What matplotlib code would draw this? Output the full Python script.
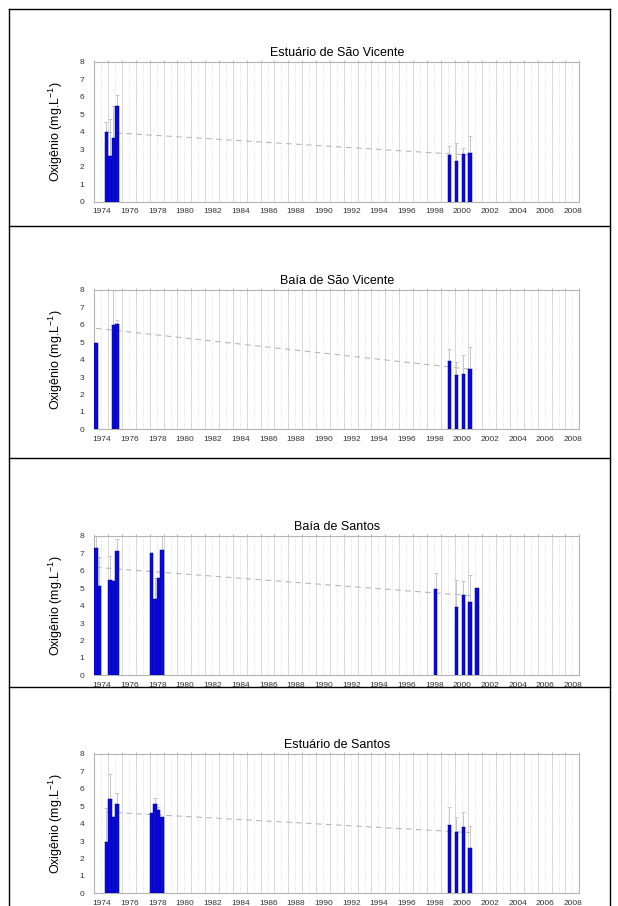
import matplotlib
matplotlib.use("Agg")
import matplotlib.pyplot as plt
from matplotlib.lines import Line2D
from matplotlib.transforms import blended_transform_factory

plt.rcParams['font.family'] = ['Liberation Sans', 'DejaVu Sans']
plt.rcParams['mathtext.default'] = 'regular'

# Sampling periods are given as (year, quarter); values in mg/L with upper error
titles = ["Estuário de São Vicente", "Baía de São Vicente",
          "Baía de Santos", "Estuário de Santos"]

sv_est_year = [1974, 1975, 1975, 1975, 1999, 2000, 2000, 2001]
sv_est_qtr = [4, 1, 2, 3, 3, 1, 3, 1]
sv_est_val = [4.00, 2.60, 3.65, 5.45, 2.68, 2.30, 2.72, 2.78]
sv_est_err = [0.55, 2.15, 1.85, 0.65, 0.52, 1.05, 0.33, 0.97]
sv_est_trend = [(1974.875, 3.97), (2001.125, 2.66)]

sv_bay_year = [1974, 1975, 1975, 1999, 2000, 2000, 2001]
sv_bay_qtr = [1, 2, 3, 3, 1, 3, 1]
sv_bay_val = [4.95, 6.00, 6.05, 3.90, 3.10, 3.15, 3.45]
sv_bay_err = [0.00, 2.00, 0.20, 0.70, 0.75, 1.10, 1.30]
sv_bay_trend = [(1974.125, 5.80), (2001.125, 3.45)]

st_bay_year = [1974, 1974, 1975, 1975, 1975, 1978, 1978, 1978, 1978,
               1998, 2000, 2000, 2001, 2001]
st_bay_qtr = [1, 2, 1, 2, 3, 1, 2, 3, 4, 3, 1, 3, 1, 3]
st_bay_val = [7.30, 5.15, 5.45, 5.40, 7.15, 7.00, 4.40, 5.60, 7.20,
              4.95, 3.95, 4.60, 4.20, 5.00]
st_bay_err = [0.70, 1.65, 1.40, 0.00, 0.65, 0.00, 1.20, 0.00, 0.80,
              0.90, 1.55, 0.80, 1.55, 0.00]
st_bay_trend = [(1974.125, 6.20), (2001.625, 4.55)]

st_est_year = [1974, 1975, 1975, 1975, 1978, 1978, 1978, 1978,
               1999, 2000, 2000, 2001]
st_est_qtr = [4, 1, 2, 3, 1, 2, 3, 4, 3, 1, 3, 1]
st_est_val = [2.95, 5.42, 4.38, 5.15, 4.60, 5.12, 4.78, 4.40,
              3.95, 3.50, 3.80, 2.60]
st_est_err = [1.95, 1.43, 0.00, 0.60, 0.00, 0.33, 0.20, 0.00,
              1.03, 0.90, 0.85, 1.27]
st_est_trend = [(1974.875, 4.67), (2001.125, 3.49)]

series = [
    (sv_est_year, sv_est_qtr, sv_est_val, sv_est_err, sv_est_trend),
    (sv_bay_year, sv_bay_qtr, sv_bay_val, sv_bay_err, sv_bay_trend),
    (st_bay_year, st_bay_qtr, st_bay_val, st_bay_err, st_bay_trend),
    (st_est_year, st_est_qtr, st_est_val, st_est_err, st_est_trend),
]

year_labels = list(range(1974, 2009, 2))
y_ticks = list(range(0, 9))

W, H = 618, 906
fig = plt.figure(figsize=(W / 100, H / 100), dpi=100)

# axes boxes in pixels: (top, bottom)
boxes = [(62, 201.5), (290, 429.3), (536, 675.3), (754, 893.3)]
ax_left, ax_right = 94.3, 579.3

for (top, bot), title, (yrs, qts, vals, errs, trend) in zip(boxes, titles, series):
    ax = fig.add_axes([ax_left / W, 1 - bot / H,
                       (ax_right - ax_left) / W, (bot - top) / H])
    x = [y + (q - 0.5) / 4 for y, q in zip(yrs, qts)]
    ax.set_xlim(1974, 2009)
    ax.set_ylim(0, 8)

    # year / half-year vertical grid
    ax.set_xticks(range(1974, 2010))
    ax.set_xticks([y + 0.5 for y in range(1974, 2009)], minor=True)
    ax.grid(True, axis='x', which='major', color='#d2d2d2', lw=0.6, zorder=0)
    ax.grid(True, axis='x', which='minor', color='#dedede', lw=0.6,
            ls=(0, (1.2, 1.5)), zorder=0)
    ax.set_axisbelow(True)
    ax.tick_params(axis='x', which='both', labelbottom=False, bottom=False,
                   top=True, length=1.5, color='#bbbbbb')
    ax.tick_params(axis='x', which='minor', top=False)
    ax.set_yticks(y_ticks)
    ax.tick_params(axis='y', length=0, pad=7, labelsize=6, labelcolor='#333333')
    for s in ax.spines.values():
        s.set_color('#b4b4b4')
        s.set_linewidth(0.8)

    # trend line
    (tx0, ty0), (tx1, ty1) = trend
    ax.plot([tx0, tx1], [ty0, ty1], color='#b8b8b8', lw=0.8,
            ls=(0, (5, 4)), zorder=1)

    ax.bar(x, vals, width=0.25, color='#0a0ade', edgecolor='#000090',
           linewidth=0.35, zorder=3)
    ex = [xi for xi, e in zip(x, errs) if e > 0]
    ev = [v for v, e in zip(vals, errs) if e > 0]
    ee = [e for e in errs if e > 0]
    ax.errorbar(ex, ev, yerr=[[0] * len(ee), ee], fmt='none',
                ecolor='#c8c8c8', elinewidth=0.7, capsize=1.6,
                capthick=0.7, zorder=2, clip_on=True)

    trans = blended_transform_factory(ax.transData, ax.transAxes)
    for yl in year_labels:
        ax.text(yl + 0.55, -0.045, str(yl), transform=trans, ha='center',
                va='top', fontsize=6, color='#333333')

    ax.set_title(title, fontsize=9, pad=4)
    ax.set_ylabel('Oxigênio (mg.L$^{-1}$)', fontsize=9)
    ax.yaxis.set_label_coords(-0.060, 0.5)

# panel frame and dividers
def hline(ypx):
    fig.add_artist(Line2D([9 / W, 610 / W], [1 - ypx / H, 1 - ypx / H],
                          color='black', lw=1.0, transform=fig.transFigure))

for ypx in (9, 226, 458, 687):
    hline(ypx)
for xpx in (9, 610):
    fig.add_artist(Line2D([xpx / W, xpx / W], [1 - 9 / H, 0],
                          color='black', lw=1.0, transform=fig.transFigure))

fig.savefig('out.png', dpi=100)
